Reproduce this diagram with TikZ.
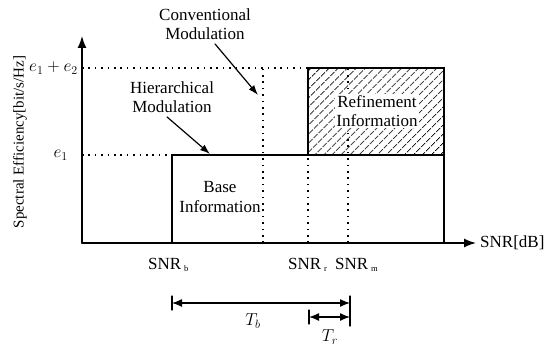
\documentclass[tikz,border=0pt]{standalone}
\usepackage{fontspec}
\setmainfont{Liberation Serif}
\usetikzlibrary{arrows.meta,patterns.meta}
\tikzset{
  txt/.style={font=\fontsize{17}{19.5}\selectfont, align=center, inner sep=1pt},
  axis/.style={line width=1.5pt, -{Latex[length=12pt,width=9pt]}},
  level/.style={line width=1.5pt, line cap=butt, dash pattern=on 1.6pt off 4.8pt},
  pointer/.style={line width=1.2pt, -{Latex[length=10pt,width=7pt]}},
  span/.style={line width=1.3pt, {Latex[length=10pt,width=8pt]}-{Latex[length=10pt,width=8pt]}},
}
\newcommand{\snr}[1]{SNR\,$_{\mathrm{\scriptscriptstyle #1}}$}
\begin{document}
\begin{tikzpicture}[x=1pt,y=1pt,line cap=round]
            \useasboundingbox (0,0) rectangle (559,346);
            \coordinate (o) at (82,103);      %origin
            \coordinate (ytop) at (82,310);
            \coordinate (xend) at (476,103);
            \coordinate (b) at (172,103);     %SNR_b
            \coordinate (c) at (263,103);     %conventional
            \coordinate (r) at (308,103);     %SNR_r
            \coordinate (m) at (348,103);     %SNR_m
            \coordinate (e) at (444,103);     %end of boxes
            \coordinate (ya) at (82,191);     %e1
            \coordinate (yb) at (82,278);     %e1+e2
            % refinement box
            \fill[pattern={Lines[angle=45,distance=6.5pt,line width=1pt]}] (308,191) rectangle (444,278);
            \draw[line width=1.4pt] (308,191) rectangle (444,278);
            % base box
            \draw[line width=1.4pt] (b) -- (172,191) -- (444,191) -- (e);
            % dotted levels
            \draw[level] (ya) -- (172,191);
            \draw[level] (yb) -- (308,278);
            \draw[level] (c) -- (263,278);
            \draw[level, line width=1.2pt] (r) -- (308,191);
            \draw[level, line width=1.2pt] (m) -- (348,278);
            % axes
            \draw[axis] (o) -- (ytop);
            \draw[axis] (o) -- (xend);
            % texts
            \node[txt, rotate=90, font=\fontsize{15}{18}\selectfont] (ylab) at (20,204) {Spectral Efficiency[bit/s/Hz]};
            \node[txt, anchor=east] (lab12) at (79,278) {$e_1+e_2$};
            \node[txt, anchor=east] (lab1) at (69,191) {$e_1$};
            \node[txt, anchor=west] (xlab) at (479,103) {SNR[dB]};
            \node[txt, anchor=west] (snrb) at (147,81) {\snr{b}};
            \node[txt, anchor=west] (snrr) at (287,81) {\snr{r}};
            \node[txt, anchor=west] (snrm) at (334,81) {\snr{m}};
            \node[txt] (conv) at (205,322) {Conventional\\Modulation};
            \node[txt] (hier) at (172,249) {Hierarchical\\Modulation};
            \node[txt, fill=white] (refi) at (377,235) {Refinement\\Information};
            \node[txt] (base) at (220,149) {Base\\Information};
            \draw[pointer] (conv.south) ++(10,-3) coordinate (cs) -- (258,251);
            \draw[pointer] (hier.south) ++(-5,-3) coordinate (hs) -- (210,192);
            % intervals
            \coordinate (tb1) at (172,43);
            \coordinate (tb2) at (350,43);
            \coordinate (tr1) at (309,29);
            \coordinate (tr2) at (350,29);
            \draw[line width=1.3pt] (172,36) -- (172,50);
            \draw[line width=1.3pt] (350,20) -- (350,50);
            \draw[line width=1.3pt] (309,22) -- (309,36);
            \draw[span] (tb1) -- (tb2);
            \draw[span] (tr1) -- (tr2);
            \node[txt] (tb) at (253,25) {$T_b$};
            \node[txt] (tr) at (330,9) {$T_r$};
        \end{tikzpicture}
\end{document}
